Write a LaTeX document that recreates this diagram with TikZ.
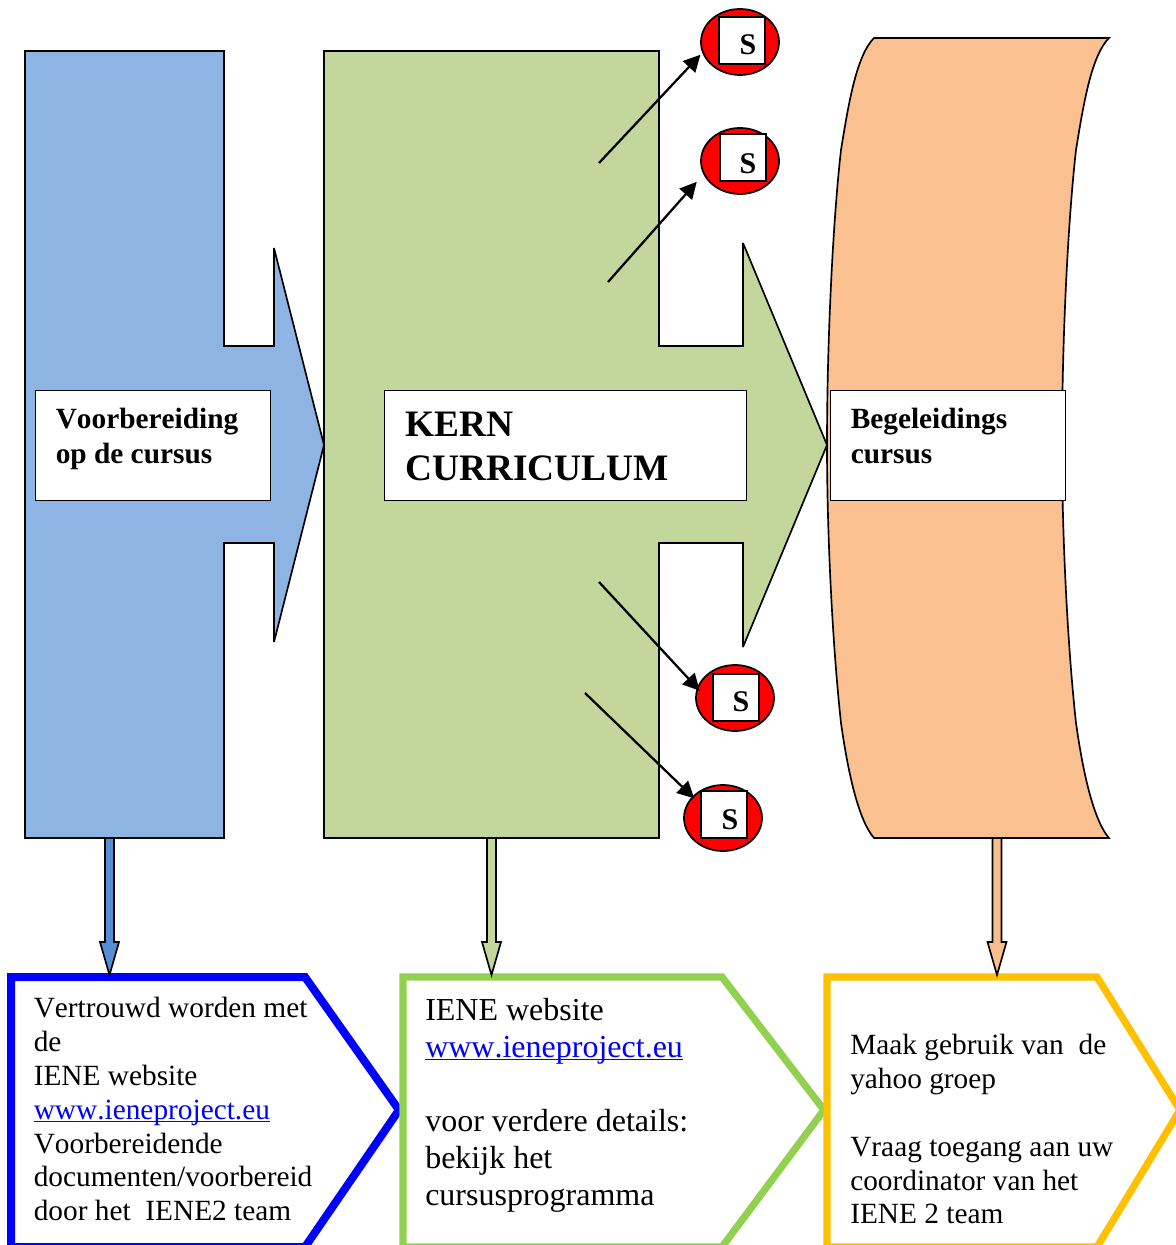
\documentclass[tikz,border=0pt]{standalone}
\usepackage{fontspec}
\setmainfont[Kerning=Off]{Liberation Serif}
\usetikzlibrary{arrows.meta,shapes.geometric,calc}
\definecolor{bluefill}{HTML}{8EB4E3}
\definecolor{greenfill}{HTML}{C3D69B}
\definecolor{orangefill}{HTML}{FAC090}
\definecolor{bluearrow}{HTML}{558ED5}
\definecolor{orangearrow}{HTML}{F9BE8E}
\definecolor{greenborder}{HTML}{92D050}
\definecolor{goldborder}{HTML}{FFC000}
\newcommand{\weblink}[1]{\textcolor{blue}{\underline{\smash{#1}}}}
\newcommand{\blockdown}[3]{%
  \draw[shapeline,fill=#3] ($(#1)+(-4.5,0)$) -- ++(0,104) -- ++(-5,0) -- (#2) -- ++(9.5,-33) -- ++(-5,0) -- ($(#1)+(4.5,0)$) -- cycle;}
\tikzset{
  shapeline/.style={draw=black,line width=1.25pt,line join=miter,miter limit=4},
  pentagonline/.style={line join=miter,fill=white},
  labelbox/.style={draw=black,fill=white,line width=1.1pt,inner sep=0pt,anchor=north west,minimum height=82.5pt},
  redspot/.style={ellipse,draw=black,fill=red,line width=1.3pt,minimum width=58.5pt,minimum height=49.5pt,inner sep=0pt},
  whitesquare/.style={rectangle,draw=black,fill=white,line width=1.5pt,minimum width=34.5pt,minimum height=35.25pt,inner sep=0pt},
  sletter/.style={font=\bfseries\fontsize{22.5pt}{24pt}\selectfont,inner sep=0pt},
  thinarrow/.style={-{Triangle[length=12.5pt,width=12.5pt]},line width=1.7pt,draw=black},
  bodytext/.style={anchor=north west,inner sep=0pt,align=left,text=black},
  headtext/.style={bodytext,font=\bfseries\fontsize{22pt}{26.2pt}\selectfont}
}
\begin{document}
\begin{tikzpicture}[x=0.75pt,y=-0.75pt]
\useasboundingbox (0,0) rectangle (1176,1245);
\clip (0,0) rectangle (1176,1245);
% main shapes
\draw[shapeline,fill=bluefill] (25,51) -- (224,51) -- (224,346) -- (274,346) -- (274,248) -- (324,445) -- (274,642) -- (274,543) -- (224,543) -- (224,838) -- (25,838) -- cycle;
\draw[shapeline,fill=greenfill] (324,51) -- (659,51) -- (659,346) -- (743,346) -- (743,243) -- (827,445) -- (743,647) -- (743,543) -- (659,543) -- (659,838) -- (324,838) -- cycle;
\draw[shapeline,fill=orangefill] (874,38) -- (1109,38)
  .. controls (1092,55) and (1084,100) .. (1076,150)
  .. controls (1068,220) and (1062,340) .. (1062,445)
  .. controls (1062,540) and (1068,650) .. (1076,723)
  .. controls (1084,780) and (1095,822) .. (1109,838)
  -- (874,838)
  .. controls (860,822) and (849,780) .. (841,723)
  .. controls (833,650) and (827,540) .. (827,445)
  .. controls (827,340) and (833,220) .. (841,150)
  .. controls (849,100) and (857,55) .. (874,38) -- cycle;
% label boxes
\node[labelbox,minimum width=176.25pt] (voor) at (35,390) {};
\node[labelbox,minimum width=271.5pt] (kern) at (384,390) {};
\node[labelbox,minimum width=176.25pt] (bege) at (830,390) {};
\node[headtext] (voortext) at (55.5,408) {Voorbereiding\\op de cursus};
\node[bodytext,font=\bfseries\fontsize{28pt}{33pt}\selectfont] (kerntext) at (405,412) {KERN\\CURRICULUM};
\node[headtext] (begetext) at (850.5,408) {Begeleidings\\cursus};
% red spots
\node[redspot] (e1) at (740,42) {};
\node[redspot] (e2) at (740,161) {};
\node[redspot] (e3) at (735,698) {};
\node[redspot] (e4) at (723,818) {};
\node[whitesquare] (q1) at (742,40.5) {};
\node[whitesquare] (q2) at (742.5,158) {};
\node[whitesquare] (q3) at (735.5,697) {};
\node[whitesquare] (q4) at (724,814.5) {};
\node[sletter] (s1) at (748,45) {S};
\node[sletter] (s2) at (748,164) {S};
\node[sletter] (s3) at (741,702) {S};
\node[sletter] (s4) at (730,820) {S};
% thin arrows
\coordinate (a1) at (599,163);
\coordinate (a2) at (608,282);
\coordinate (a3) at (599,582);
\coordinate (a4) at (585,693);
\draw[thinarrow,shorten >=2pt] (a1) -- (e1.196);
\draw[thinarrow,shorten >=7.5pt] (a2) -- (e2.200);
\draw[thinarrow,shorten >=-3pt] (a3) -- (e3.165);
\draw[thinarrow,shorten >=-2pt] (a4) -- (e4.145);
% pentagons
\draw[draw=blue,pentagonline,line width=6pt] (11,977) -- (305,977) -- (399,1110) -- (305,1247) -- (11,1247) -- cycle;
\draw[draw=greenborder,pentagonline,line width=5.4pt] (403,977) -- (722,977) -- (824,1110) -- (722,1247) -- (403,1247) -- cycle;
\draw[draw=goldborder,pentagonline,line width=5.4pt] (827,977) -- (1097,977) -- (1180,1110) -- (1097,1247) -- (827,1247) -- cycle;
% block arrows
\coordinate (b1s) at (109.5,838); \coordinate (b1e) at (109.5,975);
\coordinate (b2s) at (491.5,838); \coordinate (b2e) at (491.5,975);
\coordinate (b3s) at (997,838);   \coordinate (b3e) at (997,975);
\blockdown{b1s}{b1e}{bluearrow}
\blockdown{b2s}{b2e}{greenfill}
\blockdown{b3s}{b3e}{orangearrow}
% pentagon texts
\node[bodytext,font=\fontsize{22pt}{25.4pt}\selectfont] (t1) at (33.5,997) {Vertrouwd worden met\\de\\IENE website\\\weblink{www.ieneproject.eu}\\Voorbereidende\\documenten/voorbereid\\door het\ \ IENE2 team};
\node[bodytext,font=\fontsize{24pt}{27.75pt}\selectfont] (t2) at (425,998) {IENE website\\\weblink{www.ieneproject.eu}\\[27.75pt]voor verdere details:\\bekijk het\\cursusprogramma};
\node[bodytext,font=\fontsize{22pt}{25.4pt}\selectfont] (t3) at (850,1034) {\makebox[192pt][s]{Maak\hfil gebruik\hfil van\hfil\hfil de}\\yahoo groep\\[25.4pt]Vraag toegang aan uw\\coordinator van het\\IENE 2 team};
\end{tikzpicture}
\end{document}
